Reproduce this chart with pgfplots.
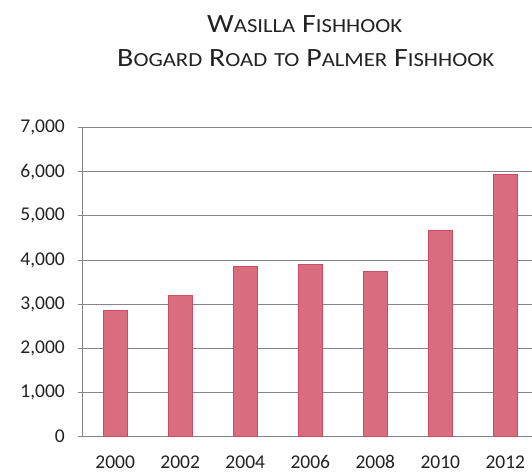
\documentclass[border=0pt]{standalone}
\usepackage{fontspec}
\setmainfont{Carlito}
\usepackage{graphicx}
\usepackage{pgfplots}
\pgfplotsset{compat=1.18}
\definecolor{barFill}{HTML}{D96C7E}
\definecolor{barEdge}{HTML}{CC4A62}
\definecolor{gridGray}{HTML}{868686}
\definecolor{txt}{HTML}{222222}

% fake small caps for the title
\newcommand{\bigc}[1]{{\fontsize{26.4}{30}\selectfont #1}}
\newcommand{\smc}[1]{{\fontsize{20}{24}\selectfont #1}}
\newcommand{\wsp}{\hspace{6pt}}

\begin{document}
\begin{tikzpicture}[x=1pt,y=1pt]
\useasboundingbox (0,0) rectangle (532,472);
\node[anchor=base west, inner sep=0pt, text=txt] at (207,439)
  {\scalebox{1.135}[1]{\bigc{W}\smc{ASILLA}\wsp\bigc{F}\smc{ISHHOOK}}};
\node[anchor=base west, inner sep=0pt, text=txt] at (117,405)
  {\scalebox{1.135}[1]{\bigc{B}\smc{OGARD}\wsp\bigc{R}\smc{OAD}\wsp\smc{TO}\wsp\bigc{P}\smc{ALMER}\wsp\bigc{F}\smc{ISHHOOK}}};
\begin{axis}[
    at={(82.7pt,35.6pt)}, anchor=south west,
    scale only axis, width=449.3pt, height=308.7pt,
    xmin=-0.5, xmax=6.41, ymin=0, ymax=7000,
    axis lines*=left,
    axis line style={gridGray, line width=1pt},
    ymajorgrids, grid style={gridGray, line width=1pt},
    ytick={0,1000,...,7000},
    xtick={0,...,6},
    xticklabels={2000,2002,2004,2006,2008,2010,2012},
    xtick style={draw=none},
    extra x ticks={-0.5,0.5,1.5,2.5,3.5,4.5,5.5},
    extra x tick labels={},
    extra x tick style={grid=none, major tick length=5pt,
        tick style={draw=gridGray, line width=1pt}},
    ytick style={draw=gridGray, line width=1pt},
    tick align=outside, major tick length=5pt,
    /pgf/number format/assume math mode=true,
    /pgf/number format/1000 sep={,},
    ticklabel style={font=\fontsize{19.5}{21}\selectfont, text=txt},
    yticklabel style={anchor=east, inner sep=0pt, xshift=-12.7pt},
    xticklabel style={anchor=base, inner sep=0pt, yshift=-27pt},
    ybar, bar width=24pt,
]
\addplot[fill=barFill, draw=barEdge, line width=0.8pt] coordinates {
    (0,2850) (1,3200) (2,3850) (3,3900) (4,3750) (5,4680) (6,5950)
};
\end{axis}
\end{tikzpicture}
\end{document}
